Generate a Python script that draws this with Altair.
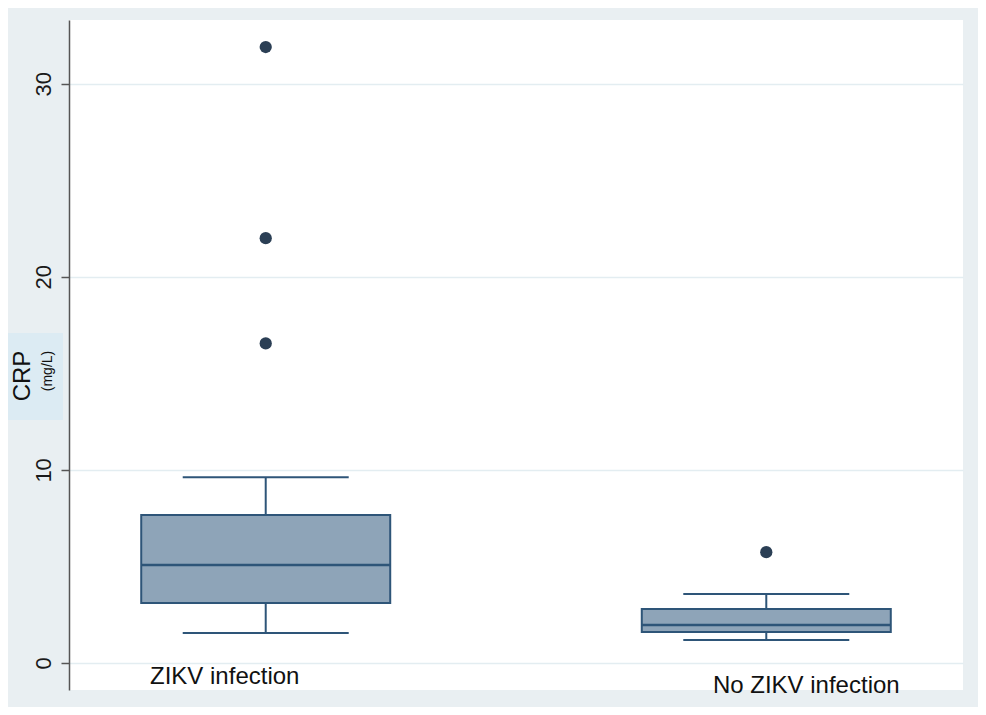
import altair as alt
import pandas as pd

# ---- data ----
groups = ["ZIKV infection", "No ZIKV infection"]
lower_whisker = [1.55, 1.19]
q1 = [3.10, 1.60]
median = [5.07, 1.97]
q3 = [7.66, 2.79]
upper_whisker = [9.62, 3.57]

outlier_group = ["ZIKV infection", "ZIKV infection", "ZIKV infection", "No ZIKV infection"]
outlier_value = [31.9, 22.0, 16.55, 5.74]

y_ticks = [0, 10, 20, 30]

stats = pd.DataFrame({
    "group": groups,
    "lo": lower_whisker,
    "q1": q1,
    "med": median,
    "q3": q3,
    "hi": upper_whisker,
})
outliers = pd.DataFrame({"group": outlier_group, "value": outlier_value})

FILL = "#8ea4b8"
STROKE = "#2e5578"
DOT = "#2b3f55"
FONT = "Liberation Sans"

x_enc = alt.X("group:N", sort=groups,
              scale=alt.Scale(type="point", padding=0.393), axis=None)
y_scale = alt.Scale(domain=[-1.4, 33.3], nice=False, zero=False)
y_axis = alt.Axis(values=y_ticks, title=None, labelAngle=270, labelFontSize=22,
                  labelFont=FONT, labelColor="#1a1a1a", labelAlign="center",
                  labelBaseline="bottom", labelPadding=6, tickSize=8,
                  tickColor="#555555", tickWidth=1.5, domainColor="#555555",
                  domainWidth=1.5, grid=True, gridColor="#e3edf1", gridWidth=1.5)

base = alt.Chart(stats)

whisk_low = base.mark_rule(color=STROKE, strokeWidth=2).encode(
    x=x_enc, y=alt.Y("lo:Q", scale=y_scale, axis=y_axis), y2="q1:Q")
whisk_high = base.mark_rule(color=STROKE, strokeWidth=2).encode(
    x=x_enc, y=alt.Y("q3:Q", scale=y_scale), y2="hi:Q")
box = base.mark_bar(size=249, fill=FILL, stroke=STROKE, strokeWidth=2).encode(
    x=x_enc, y=alt.Y("q1:Q", scale=y_scale), y2="q3:Q")
med = base.mark_tick(size=249, thickness=2.5, color=STROKE, opacity=1).encode(
    x=x_enc, y=alt.Y("med:Q", scale=y_scale))
cap_lo = base.mark_tick(size=166, thickness=2, color=STROKE, opacity=1).encode(
    x=x_enc, y=alt.Y("lo:Q", scale=y_scale))
cap_hi = base.mark_tick(size=166, thickness=2, color=STROKE, opacity=1).encode(
    x=x_enc, y=alt.Y("hi:Q", scale=y_scale))
dots = alt.Chart(outliers).mark_circle(size=150, color=DOT, opacity=1).encode(
    x=x_enc, y=alt.Y("value:Q", scale=y_scale))

lab1 = base.transform_filter(alt.datum.group == groups[0]).mark_text(
    font=FONT, fontSize=24, color="#111111", dx=-41, baseline="middle").encode(
    x=x_enc, y=alt.value(657), text="group:N")
lab2 = base.transform_filter(alt.datum.group == groups[1]).mark_text(
    font=FONT, fontSize=24, color="#111111", dx=40, baseline="middle").encode(
    x=x_enc, y=alt.value(666), text="group:N")

title_box = alt.Chart(pd.DataFrame({"t": [""]})).mark_rect(
    color="#dcebf3", clip=False).encode(
    x=alt.value(-61), x2=alt.value(-6), y=alt.value(313), y2=alt.value(400))
title_main = alt.Chart(pd.DataFrame({"t": ["CRP"]})).mark_text(
    font=FONT, fontSize=24, angle=270, color="#111111", baseline="middle").encode(
    x=alt.value(-46), y=alt.value(356), text="t:N")
title_unit = alt.Chart(pd.DataFrame({"t": ["(mg/L)"]})).mark_text(
    font=FONT, fontSize=14, angle=270, color="#111111", baseline="middle").encode(
    x=alt.value(-21), y=alt.value(351), text="t:N")

chart = alt.layer(
    title_box, whisk_low, whisk_high, box, med, cap_lo, cap_hi, dots,
    lab1, lab2, title_main, title_unit
).properties(
    width=894, height=670,
    autosize=alt.AutoSizeParams(type="none"),
    padding={"left": 61, "top": 12, "right": 15, "bottom": 17},
    background="#e9eff2",
).configure_view(fill="white", strokeWidth=0)

chart.save("out.html", embed_options={"renderer": "svg", "actions": False})
